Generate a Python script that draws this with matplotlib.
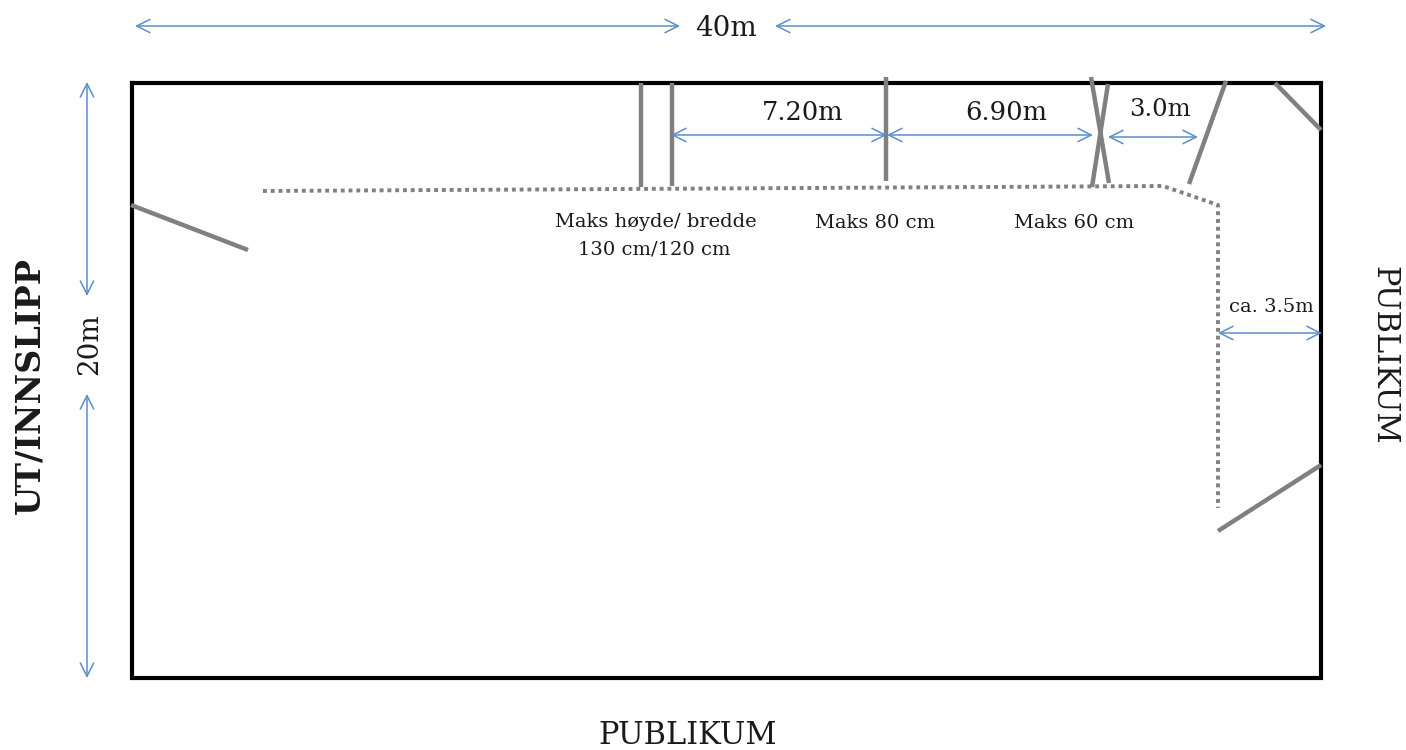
import matplotlib
matplotlib.use("Agg")
import matplotlib.pyplot as plt

# pixel coordinates
width, height = 1406, 750
dpi = 100

grey = "#808080"
blue = "#5b8fc9"
serif = ["DejaVu Serif"]

arena_x = [132, 1321, 1321, 132, 132]
arena_y = [83, 83, 678, 678, 83]

# x0, y0, x1, y1
jumps = [
    (641, 83, 641, 187),
    (672, 83, 672, 186),
    (886, 77, 886, 181),
    (1091, 77, 1109, 183),
    (1108, 84, 1092, 187),
    (1226, 81, 1189, 184),
    (1275, 83, 1321, 130),
    (131, 205, 248, 250),
    (1218, 531, 1321, 465),
]

rope_x = [263, 1163, 1218, 1218]
rope_y = [191, 186, 205, 508]

# x0, y0, x1, y1
dimensions = [
    (135, 26, 680, 26),
    (775, 26, 1326, 26),
    (87, 82, 87, 296),
    (87, 394, 87, 678),
    (671, 135, 887, 135),
    (887, 135, 1093, 135),
    (1108, 137, 1198, 137),
    (1218, 333, 1322, 333),
]

# x, y, text, size, rotation, weight
labels = [
    (726, 28, "40m", 20, 0, "normal"),
    (803, 112, "7.20m", 18.5, 0, "normal"),
    (1006, 112, "6.90m", 18.5, 0, "normal"),
    (1160, 109, "3.0m", 17.5, 0, "normal"),
    (1271, 307, "ca. 3.5m", 14, 0, "normal"),
    (656, 222, "Maks høyde/ bredde", 14, 0, "normal"),
    (654, 249, "130 cm/120 cm", 14, 0, "normal"),
    (875, 223, "Maks 80 cm", 14, 0, "normal"),
    (1074, 223, "Maks 60 cm", 14, 0, "normal"),
    (688, 736, "PUBLIKUM", 22, 0, "normal"),
    (1384, 355, "PUBLIKUM", 22, -90, "normal"),
    (90, 344, "20m", 20, 90, "normal"),
    (30, 385, "UT/INNSLIPP", 24, 90, "bold"),
]

fig = plt.figure(figsize=(width / dpi, height / dpi), dpi=dpi)
ax = fig.add_axes([0, 0, 1, 1])
ax.set_xlim(0, width)
ax.set_ylim(height, 0)
ax.axis("off")

ax.plot(arena_x, arena_y, color="black", lw=3, solid_joinstyle="miter")

for x0, y0, x1, y1 in jumps:
    ax.plot([x0, x1], [y0, y1], color=grey, lw=3.2, solid_capstyle="butt")

ax.plot(rope_x, rope_y, color=grey, lw=2.8, linestyle=(0, (1, 1)))

for x0, y0, x1, y1 in dimensions:
    ax.annotate("", xy=(x1, y1), xytext=(x0, y0),
                arrowprops=dict(arrowstyle="<->", color=blue, lw=1.1,
                                shrinkA=0, shrinkB=0, mutation_scale=24))

for x, y, text, size, rotation, weight in labels:
    ax.text(x, y, text, fontsize=size, rotation=rotation, fontweight=weight,
            family=serif, ha="center", va="center", color="#1a1a1a")

fig.savefig("out.png", dpi=dpi)
plt.close(fig)
